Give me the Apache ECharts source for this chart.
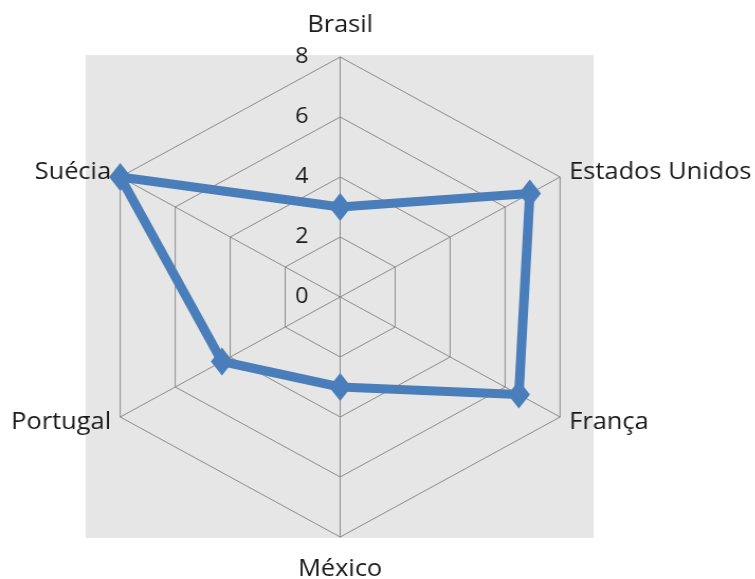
<!DOCTYPE html>
<html>
<head>
<meta charset="utf-8">
<script src="https://cdn.jsdelivr.net/npm/echarts@6/dist/echarts.min.js"></script>
<style>
  html, body { margin: 0; padding: 0; background: #fff; overflow: hidden; }
  #wrap { width: 755px; height: 579px; overflow: hidden; }
  /* the chart is drawn a little narrower and widened horizontally */
  #chart { width: 714px; height: 579px; transform: scaleX(1.058); transform-origin: 0 0; }
</style>
</head>
<body>
<div id="wrap"><div id="chart"></div></div>
<script>
// Countries listed clockwise starting from the top axis
const countries = ['Brasil', 'Estados Unidos', 'França', 'México', 'Portugal', 'Suécia'];
const values = [3, 6.9, 6.5, 3, 4.3, 8];
const axisMax = 8;
const axisStep = 2;

// ECharts lays indicators out counter-clockwise, so keep the first one on top
// and walk the rest backwards.
const order = [0].concat(countries.slice(1).map((_, i) => countries.length - 1 - i));
const vertical = new Set([0, 3]);

const indicator = order.map(i => ({
  name: countries[i],
  min: 0,
  max: axisMax,
  nameGap: vertical.has(i) ? 20 : 10,
  axisLabel: i === 0 ? { show: true } : { show: false }
}));
const seriesValues = order.map(i => values[i]);

const chart = echarts.init(document.getElementById('chart'), null, { renderer: 'canvas' });
chart.setOption({
  animation: false,
  backgroundColor: '#ffffff',
  grid: {
    show: true, left: 81, top: 55, width: 480, height: 483,
    backgroundColor: '#e6e6e6', borderWidth: 0
  },
  xAxis: { show: false, type: 'value' },
  yAxis: { show: false, type: 'value' },
  radar: {
    center: [321.5, 297],
    radius: 240,
    startAngle: 90,
    shape: 'polygon',
    splitNumber: axisMax / axisStep,
    indicator: indicator,
    axisName: {
      color: '#1a1a1a',
      fontSize: 24,
      fontFamily: 'Open Sans'
    },
    axisLabel: {
      show: false,
      color: '#1a1a1a',
      fontSize: 22,
      fontFamily: 'Open Sans',
      margin: 30
    },
    axisTick: { show: false },
    axisLine: { lineStyle: { color: '#8c8c8c', width: 1 } },
    splitLine: { lineStyle: { color: '#8c8c8c', width: 1 } },
    splitArea: { show: false }
  },
  series: [{
    type: 'radar',
    symbol: 'diamond',
    symbolSize: [21, 28],
    lineStyle: { color: '#4a7ebb', width: 9, join: 'round' },
    itemStyle: { color: '#4a7ebb' },
    data: [{ value: seriesValues }]
  }]
});
</script>
</body>
</html>
